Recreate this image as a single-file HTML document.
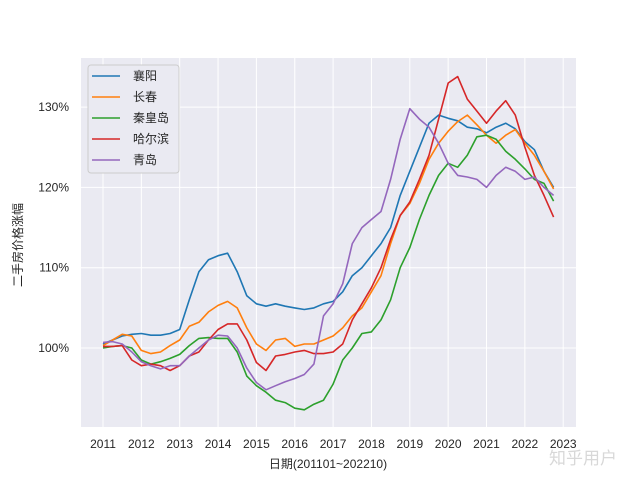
<!DOCTYPE html>
<html><head><meta charset="utf-8">
<style>
body{margin:0;background:#fff;width:640px;height:480px;overflow:hidden}
svg text{font-family:"Liberation Sans","Noto Sans CJK SC",sans-serif;fill:#262626}
</style></head>
<body>
<svg id="chart" width="640" height="480">
<rect x="81" y="58" width="495" height="369" fill="#eaeaf2"/>
<g id="grid"></g>
<g id="series"></g>
<g id="ticks"></g>
<text x="22" y="245" font-size="12" text-anchor="middle" transform="rotate(-90 22 245)">二手房价格涨幅</text>
<text x="328" y="468" font-size="12" text-anchor="middle">日期(201101~202210)</text>
<text x="583" y="464" font-size="17" text-anchor="middle" style="fill:#d8d8d8">知乎用户</text>
<g id="legend">
<rect x="88" y="65" width="91" height="108" rx="3" fill="#eaeaf2" stroke="#cccccc" stroke-width="1"/>
</g>
</svg>
<script>
const years=[2011,2012,2013,2014,2015,2016,2017,2018,2019,2020,2021,2022,2023];
const yTicks=[100,110,120,130];
const names=["襄阳","长春","秦皇岛","哈尔滨","青岛"];
const colors=["#1f77b4","#ff7f0e","#2ca02c","#d62728","#9467bd"];
const startYear=2011, stepYear=0.25;
const xiangyang=[100.5,101,101.5,101.7,101.8,101.6,101.6,101.8,102.3,106,109.5,111,111.5,111.8,109.5,106.5,105.5,105.2,105.5,105.2,105,104.8,105,105.5,105.8,107,109,110,111.5,113,115,119,122,125,128,129,128.6,128.3,127.5,127.3,126.8,127.5,128,127.3,125.7,124.7,122,120];
const changchun=[100.3,101,101.7,101.5,99.7,99.3,99.5,100.3,101,102.7,103.2,104.5,105.3,105.8,105,102.5,100.5,99.7,101,101.2,100.2,100.5,100.5,101,101.5,102.5,104,105,107,109,113,116.5,118,120.5,123.5,125.5,127,128.2,129,127.8,126.5,125.5,126.5,127.2,125.5,124,122,119.8];
const qinhuangdao=[100,100.2,100.3,100,98.5,98,98.3,98.7,99.2,100.3,101.2,101.3,101.2,101.2,99.5,96.5,95.3,94.5,93.5,93.2,92.5,92.3,93,93.5,95.5,98.5,100,101.8,102,103.5,106,110,112.5,116,119,121.5,123,122.5,124,126.3,126.5,126,124.5,123.5,122.3,121,120.5,118.3];
const harbin=[100.2,100.2,100.3,98.5,97.8,98,97.8,97.2,97.8,99,99.5,101,102.3,103,103,101,98.2,97.2,99,99.2,99.5,99.7,99.3,99.3,99.5,100.5,103.5,105.5,107.5,110,113.5,116.5,118.2,121,124,128.5,133,133.8,131,129.5,128,129.5,130.8,129,125,121.5,119,116.3];
const qingdao=[100.7,100.8,100.5,99.5,98.3,97.8,97.4,97.8,97.8,99,100,101,101.6,101.5,100,97.5,95.7,94.8,95.3,95.8,96.2,96.7,98,104,105.5,108,113,115,116,117,121,126,129.8,128.5,127.5,125.5,123,121.5,121.3,121,120,121.5,122.5,122,121,121.3,120,119];
const allSeries=[xiangyang,changchun,qinhuangdao,harbin,qingdao];
const X=y=>103+(y-2011)*38.35;
const Y=v=>348-(v-100)*8.03;
const NS="http://www.w3.org/2000/svg";
function mk(tag,attrs,parent){const e=document.createElementNS(NS,tag);for(const k in attrs)e.setAttribute(k,attrs[k]);parent.appendChild(e);return e;}
const grid=document.getElementById('grid'),ticks=document.getElementById('ticks'),ser=document.getElementById('series'),leg=document.getElementById('legend');
years.forEach(yr=>{
 const l=mk('line',{x1:X(yr),x2:X(yr),y1:58,y2:427,stroke:'#fff','stroke-width':1},grid);
 
 
 const t=mk('text',{x:X(yr),y:448,'font-size':12,'text-anchor':'middle'},ticks);
 t.textContent=yr;
 
 
});
yTicks.forEach(v=>{
 const l=mk('line',{x1:81,x2:576,y1:Y(v),y2:Y(v),stroke:'#fff','stroke-width':1},grid);
 
 
 const t=mk('text',{x:69,y:Y(v)+4,'font-size':12,'text-anchor':'end'},ticks);
 t.textContent=v+'%';
 
 
});
allSeries.forEach((s,i)=>{
 const pts=s.map((v,j)=>X(startYear+j*stepYear).toFixed(1)+','+Y(v).toFixed(1)).join(' ');
 const p=mk('polyline',{points:pts,fill:'none',stroke:colors[i],'stroke-width':1.6,'stroke-linejoin':'round'},ser);
 
 
 const ly=76+i*21;
 const ll=mk('line',{x1:92,x2:120,y1:ly,y2:ly,stroke:colors[i],'stroke-width':1.6},leg);
 
 
 const lt=mk('text',{x:133,y:ly+4,'font-size':12},leg);
 lt.textContent=names[i];
 
 
});
</script>
</body></html>
